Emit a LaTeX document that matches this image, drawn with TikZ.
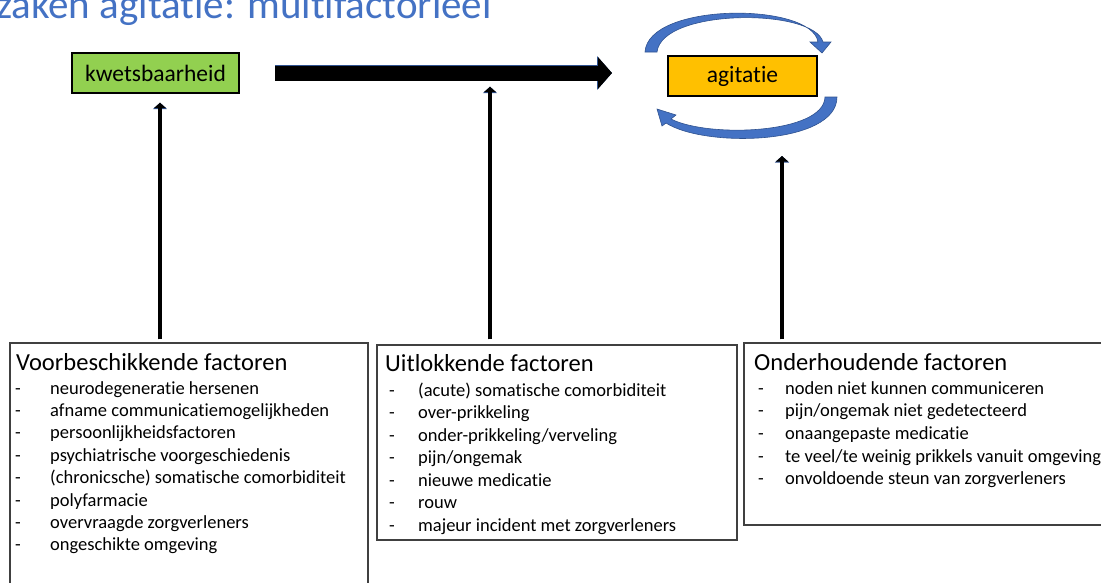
\documentclass[tikz,border=0pt]{standalone}
\usepackage{fontspec}
\setmainfont{Carlito}[Ligatures=NoCommon]
\usepackage{xcolor}
\usetikzlibrary{arrows.meta}

\definecolor{titelblauw}{HTML}{4472C4}
\definecolor{pijlrand}{HTML}{2F528F}
\definecolor{groen}{HTML}{92D050}
\definecolor{oranje}{HTML}{FFC000}
\definecolor{kaderrand}{HTML}{404040}

\tikzset{
    titel/.style={anchor=base east, inner sep=0pt, text=titelblauw, font=\fontsize{41}{49}\selectfont},
    topbox/.style={draw=black, line width=2pt, minimum height=40pt, inner sep=0pt, font=\fontsize{23.5}{28}\selectfont},
    factorbox/.style={draw=kaderrand, line width=1.2pt, inner sep=0pt},
    kop/.style={anchor=base west, inner sep=0pt, font=\fontsize{24.5}{29}\selectfont},
    item/.style={anchor=base west, inner sep=0pt, font=\fontsize{18.5}{22}\selectfont},
    uparrow/.style={line width=3.4pt, -{Triangle[width=12pt,length=5.5pt]},
        preaction={draw=pijlrand, line width=4.8pt, -{Triangle[width=14pt,length=6.5pt]}}},
    bigarrow/.style={line width=15pt, -{Triangle[width=31pt,length=14pt]},
        preaction={draw=pijlrand, line width=16.5pt, -{Triangle[width=33pt,length=15pt]}}},
    kringpijl/.style={fill=titelblauw, draw=pijlrand, line width=0.6pt}
}

\begin{document}
\begin{tikzpicture}[x=1pt, y=-1pt]
    \useasboundingbox (0,0) rectangle (1101,582);
    \clip (0,0) rectangle (1101,582);

    % titel, bovenaan en links afgesneden
    \node[titel] (titel) at (492,18) {zaken agitatie: multifactorieel};

    \node[topbox, fill=groen, minimum width=167pt] (kwets) at (155.5,73) {kwetsbaarheid};
    \node[topbox, fill=oranje, minimum width=149pt] (agit) at (742.5,76) {agitatie};

    % kringloop rond agitatie
    \filldraw[kringpijl] (645,52) .. controls (648,2) and (812,2) .. (818,42)
        -- (810,42) -- (822,53) -- (831,42) -- (823,42)
        .. controls (814,8) and (662,8) .. (657,52) -- cycle;
    \filldraw[kringpijl] (837,97) .. controls (837,145) and (705,148) .. (666,123)
        -- (662,126) -- (657,109) -- (676,115) -- (671,119)
        .. controls (708,138) and (824,134) .. (825,97) -- cycle;

    \draw[bigarrow, shorten <=35pt, shorten >=55pt] (kwets.east) -- (kwets.east -| agit.west);
    \coordinate (midden) at (490,72.5);

    % kaders met factoren
    \node[factorbox, minimum width=358pt, minimum height=257pt] (voorb) at (189,471.5) {};
    \node[factorbox, minimum width=360pt, minimum height=195pt] (uitl) at (557,442.5) {};
    \node[factorbox, minimum width=376pt, minimum height=182pt] (onderh) at (932,434) {};

    \node[kop] (voorb-kop) at (16,370) {Voorbeschikkende factoren};
    \node[kop] (uitl-kop) at (385,371) {Uitlokkende factoren};
    \node[kop] (onderh-kop) at (754,370) {Onderhoudende factoren};

    \foreach \tekst [count=\i from 0] in {neurodegeneratie hersenen, afname communicatiemogelijkheden,
        persoonlijkheidsfactoren, psychiatrische voorgeschiedenis, (chronicsche) somatische comorbiditeit,
        polyfarmacie, overvraagde zorgverleners, ongeschikte omgeving} {
        \node[item] (voorb-s\i) at (15,394+22.4*\i) {-};
        \node[item] (voorb-\i) at (50,394+22.4*\i) {\tekst};
    }
    \foreach \tekst [count=\i from 0] in {(acute) somatische comorbiditeit, over-prikkeling,
        onder-prikkeling/verveling, pijn/ongemak, nieuwe medicatie, rouw,
        majeur incident met zorgverleners} {
        \node[item] (uitl-s\i) at (389,396+22.5*\i) {-};
        \node[item] (uitl-\i) at (418,396+22.5*\i) {\tekst};
    }
    \foreach \tekst [count=\i from 0] in {noden niet kunnen communiceren, pijn/ongemak niet gedetecteerd,
        onaangepaste medicatie, te veel/te weinig prikkels vanuit omgeving,
        onvoldoende steun van zorgverleners} {
        \node[item] (onderh-s\i) at (758,394+22.7*\i) {-};
        \node[item] (onderh-\i) at (785,394+22.7*\i) {\tekst};
    }

    % pijlen omhoog
    \draw[uparrow, shorten <=3pt, shorten >=8.7pt] ([xshift=4.5pt]kwets.south |- voorb.north) -- ([xshift=4.5pt]kwets.south);
    \draw[uparrow, shorten <=5pt, shorten >=14.2pt] (midden |- uitl.north) -- (midden);
    \draw[uparrow, shorten <=3pt, shorten >=59pt] ([xshift=39.5pt]agit.south |- onderh.north) -- ([xshift=39.5pt]agit.south);
\end{tikzpicture}
\end{document}
